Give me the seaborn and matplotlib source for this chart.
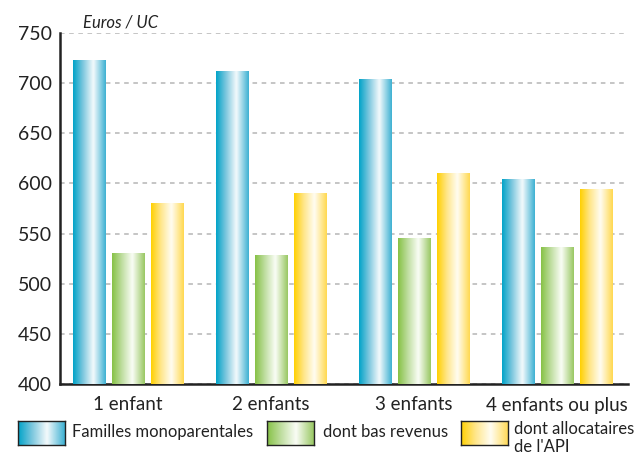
import numpy as np
import pandas as pd
import matplotlib
matplotlib.use("Agg")
import matplotlib.pyplot as plt
import seaborn as sns
from matplotlib.colors import LinearSegmentedColormap

# ─────────────────────────────────────────
# DATA (euros par unité de consommation)
# ─────────────────────────────────────────
categories = ["1 enfant", "2 enfants", "3 enfants", "4 enfants ou plus"]
series = ["Familles monoparentales", "dont bas revenus", "dont allocataires\nde l'API"]
familles = [723, 712, 704, 604]
bas_revenus = [530, 528, 545, 536]
api = [580, 590, 610, 594]
yticks = [400, 450, 500, 550, 600, 650, 700, 750]

df = pd.DataFrame({
    "categorie": categories * 3,
    "serie": [series[0]] * 4 + [series[1]] * 4 + [series[2]] * 4,
    "valeur": familles + bas_revenus + api,
})

# gradient colormaps (left edge saturated -> white -> lighter right edge)
cmaps = [
    LinearSegmentedColormap.from_list("bleu", [(0, "#00a3c8"), (0.3, "#7cc7de"), (0.62, "#f4fafc"), (1, "#3cb0d2")]),
    LinearSegmentedColormap.from_list("vert", [(0, "#86c145"), (0.3, "#bfdea0"), (0.62, "#fafdf6"), (1, "#98c762")]),
    LinearSegmentedColormap.from_list("jaune", [(0, "#ffd000"), (0.3, "#ffe68a"), (0.62, "#fffdf2"), (1, "#ffd84f")]),
]
grad = np.linspace(0, 1, 256).reshape(1, -1)

# ─────────────────────────────────────────
# FIGURE
# ─────────────────────────────────────────
sns.set_style("white")
plt.rcParams["font.family"] = ["Lato", "DejaVu Sans"]

fig = plt.figure(figsize=(6.44, 4.61), dpi=100)
ax = fig.add_axes([60 / 644, 1 - 384 / 461, 568 / 644, 351 / 461])

sns.barplot(data=df, x="categorie", y="valeur", hue="serie", order=categories,
            hue_order=series, width=0.82, gap=0.18, ax=ax, legend=False,
            palette=["#00a3c8", "#86c145", "#ffd000"], zorder=3)

# replace flat bars by gradient images
for container, cmap in zip(ax.containers, cmaps):
    for bar in container:
        x0, y0 = bar.get_xy()
        w, h = bar.get_width(), bar.get_height()
        ax.imshow(grad, cmap=cmap, aspect="auto", extent=[x0, x0 + w, y0, y0 + h],
                  zorder=3, interpolation="bicubic")
        bar.set_visible(False)

ax.set_xlim(-0.475, 3.495)
ax.set_ylim(400, 750)
ax.set_yticks(yticks)
ax.set_xlabel("")
ax.set_ylabel("")

ax.yaxis.grid(True, linestyle=(0, (3, 3)), color="#b5b5b5", linewidth=1.1, zorder=1)
ax.set_axisbelow(True)

for side in ["top", "right"]:
    ax.spines[side].set_visible(False)
for side in ["left", "bottom"]:
    ax.spines[side].set_color("#222222")
    ax.spines[side].set_linewidth(1.8)

ax.tick_params(axis="y", direction="in", length=10, width=1.8, color="#222222",
               labelsize=14, labelcolor="#222222", pad=6)
ax.tick_params(axis="x", length=0, labelsize=13.5, labelcolor="#222222", pad=9)

fig.text(83 / 644, 1 - 22 / 461, "Euros / UC", fontsize=12, style="italic",
         color="#222222", va="center", ha="left")

# ─────────────────────────────────────────
# LEGEND (drawn by hand, gradient swatches)
# ─────────────────────────────────────────
patch_x = [18, 267, 461]
text_x = [72, 323, 514]
for px, tx, cmap, label in zip(patch_x, text_x, cmaps, series):
    lax = fig.add_axes([px / 644, 1 - 445 / 461, 47 / 644, 24 / 461])
    lax.imshow(grad, cmap=cmap, aspect="auto", interpolation="bicubic")
    lax.set_xticks([])
    lax.set_yticks([])
    for s in lax.spines.values():
        s.set_visible(True)
        s.set_color("#222222")
        s.set_linewidth(1.0)
    if "\n" in label:
        fig.text(tx / 644, 1 - 438 / 461, label, fontsize=12, color="#222222",
                 va="center", ha="left", linespacing=1.15)
    else:
        fig.text(tx / 644, 1 - 432 / 461, label, fontsize=12, color="#222222",
                 va="center", ha="left")

fig.savefig("out.png", dpi=100)
